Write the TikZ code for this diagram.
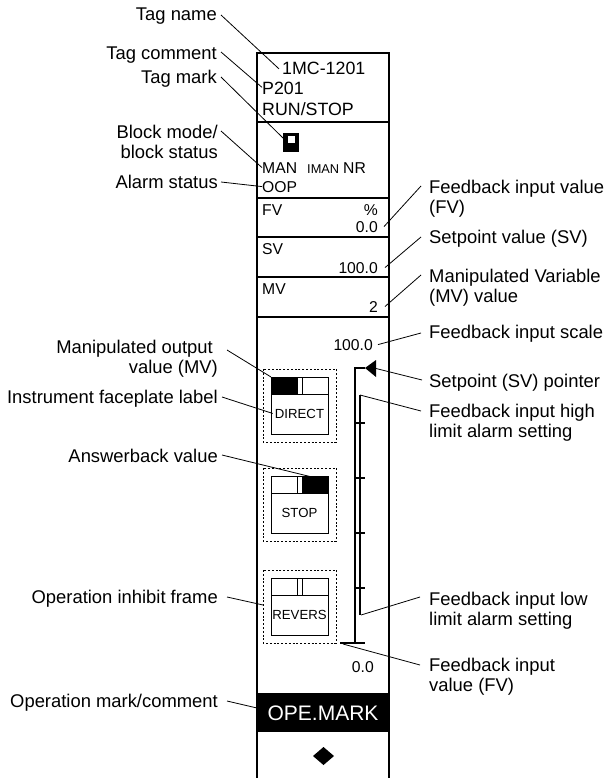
\documentclass[tikz,border=0pt]{standalone}
\usepackage{fontspec}
\setmainfont{Liberation Sans}
\tikzset{
  lbl/.style={font=\fontsize{18.4}{20}\selectfont, inner sep=0pt},
  lblL/.style={lbl, align=right, anchor=north east},
  lblR/.style={lbl, align=left, anchor=north west},
  ptxt/.style={font=\fontsize{15.7}{18}\selectfont, inner sep=0pt},
  tagtxt/.style={font=\fontsize{17.8}{20}\selectfont, inner sep=0pt, anchor=base west},
  btxt/.style={font=\fontsize{13.2}{15}\selectfont, inner sep=0pt, anchor=base},
  leader/.style={line width=0.8pt},
  panel/.style={line width=1.4pt},
  inhibit/.style={line width=0.9pt, dash pattern=on 2pt off 1.8pt},
}

\begin{document}
\begin{tikzpicture}[x=1pt, y=-1pt]
  \useasboundingbox (0,0) rectangle (605,778);
  % faceplate frame
  \draw[panel] (257,778) -- (257,53) -- (389,53) -- (389,778);
  \foreach \y in {122,198,237,277,317}
    \draw[panel] (257,\y) -- (389,\y);
  \fill (257,693) rectangle (389,732);
  \node[font=\fontsize{21}{24}\selectfont, text=white, inner sep=0pt, anchor=base]
    (opemark) at (323,720) {OPE.MARK};
  \fill (323.5,747) -- (334,756) -- (323.5,765) -- (313,756) -- cycle;

  % tag area
  \node[tagtxt] (tagname)    at (282,75)  {1MC-1201};
  \node[tagtxt] (tagcomment) at (262,95)  {P201};
  \node[tagtxt] (tagrun)     at (262,116) {RUN/STOP};
  \fill (283,133) rectangle (299,152);
  \fill[white] (288,136) rectangle (295,143);
  \coordinate (tagmark) at (283,138);

  % mode / alarm
  \node[ptxt, anchor=base west] (modeman) at (262,173) {MAN};
  \node[ptxt, anchor=base west, font=\fontsize{12.8}{15}\selectfont]
    (modeiman) at (307,173) {IMAN};
  \node[ptxt, anchor=base west] (modenr)  at (343,173) {NR};
  \node[ptxt, anchor=base west] (alarm)   at (262,192) {OOP};

  % data rows
  \node[ptxt, anchor=base west] (fvname) at (262,215) {FV};
  \node[ptxt, anchor=base east] (fvunit) at (378,215) {\%};
  \node[ptxt, anchor=base east] (fvval)  at (378,232) {0.0};
  \node[ptxt, anchor=base west] (svname) at (262,254) {SV};
  \node[ptxt, anchor=base east] (svval)  at (378,273) {100.0};
  \node[ptxt, anchor=base west] (mvname) at (262,294) {MV};
  \node[ptxt, anchor=base east] (mvval)  at (378,312) {2};

  % operation buttons
  \foreach \nm/\y/\lf/\rf/\txt in {direct/369/black/white/DIRECT,
                                   stop/468/white/black/STOP,
                                   revers/570/white/white/REVERS} {
    \draw[inhibit] (263,\y) rectangle (336,\y+73);
    \draw[line width=1pt] (271,\y+8) rectangle (328,\y+65);
    \filldraw[line width=1pt, fill=\lf] (271,\y+8) rectangle (297,\y+25);
    \draw[line width=1pt] (297,\y+8) rectangle (302,\y+25);
    \filldraw[line width=1pt, fill=\rf] (302,\y+8) rectangle (328,\y+25);
    \node[btxt] (\nm) at (299.5,\y+49) {\txt};
  }
  \coordinate (dirbar)  at (271,377);
  \coordinate (stopbar) at (312,477);
  \coordinate (revframe) at (263,605);

  % bar graph
  \node[ptxt, anchor=base east] (scalehi) at (373,350) {100.0};
  \node[ptxt, anchor=base east] (scalelo) at (374,672) {0.0};
  \draw[line width=1.1pt] (365,368) -- (355,368) -- (355,643) -- (365,643);
  \foreach \t in {423,478,533,588}
    \draw[line width=1.1pt] (355,\t) -- (365,\t);
  \fill (365,368) -- (376,360) -- (376,377) -- cycle;
  \coordinate (svptr) at (376,368.5);
  \draw[line width=1.1pt] (360,395) -- (360,615);
  \coordinate (hialarm) at (360,395);
  \coordinate (loalarm) at (361,615);
  \draw[line width=2pt] (340,643) -- (355,643);
  \coordinate (fvbar) at (343,644);
  \coordinate (opeleft) at (257,708);

  % left labels
  \node[lblL] (ltagname) at (217,8)   {Tag name};
  \node[lblL] (ltagcom)  at (217,47)  {Tag comment};
  \node[lblL] (ltagmark) at (217,70)  {Tag mark};
  \node[lblL] (lblock)   at (218,125) {Block mode/\\block status};
  \node[lblL] (lalarm)   at (218,175) {Alarm status};
  \node[lblL] (lmvout)   at (218,340) {Manipulated output\hbox to 5pt{}\\value (MV)};
  \node[lblL] (lface)    at (218,390) {Instrument faceplate label};
  \node[lblL] (lansw)    at (218,449) {Answerback value};
  \node[lblL] (linhibit) at (218,590) {Operation inhibit frame};
  \node[lblL] (lopemark) at (218,694) {Operation mark/comment};

  \draw[leader] ([shift={(4,7)}]ltagname.north east) -- ([shift={(-3,0)}]tagname.west);
  \draw[leader] ([shift={(4,5)}]ltagcom.north east)  -- ([shift={(0,5)}]tagcomment.north west);
  \draw[leader] ([shift={(4,7)}]ltagmark.north east) -- (tagmark);
  \draw[leader] ([shift={(3,6)}]lblock.north east)   -- (modeman.west);
  \draw[leader] ([shift={(3,7)}]lalarm.north east)   -- (alarm.west);
  \draw[leader] ([shift={(9,10)}]lmvout.north east)  -- (dirbar);
  \draw[leader] ([shift={(4,7)}]lface.north east)    -- ([shift={(-2,0)}]direct.west);
  \draw[leader] ([shift={(4,6)}]lansw.north east)    -- (stopbar);
  \draw[leader] ([shift={(9,7)}]linhibit.north east) -- (revframe);
  \draw[leader] ([shift={(9,7)}]lopemark.north east) -- (opeleft);

  % right labels
  \node[lblR] (lfv)    at (429,180) {Feedback input value\\(FV)};
  \node[lblR] (lsv)    at (429,230) {Setpoint value (SV)};
  \node[lblR] (lmv)    at (429,269) {Manipulated Variable\\(MV) value};
  \node[lblR] (lscale) at (429,325) {Feedback input scale};
  \node[lblR] (lsvptr) at (429,374) {Setpoint (SV) pointer};
  \node[lblR] (lhi)    at (429,404) {Feedback input high\\limit alarm setting};
  \node[lblR] (llo)    at (429,592) {Feedback input low\\limit alarm setting};
  \node[lblR] (lfvin)  at (429,658) {Feedback input\\value (FV)};

  \draw[leader] ([shift={(-8,6)}]lfv.north west)    -- ([shift={(6,0)}]fvval.east);
  \draw[leader] ([shift={(-8,7)}]lsv.north west)    -- ([shift={(7,0)}]svval.east);
  \draw[leader] ([shift={(-8,6)}]lmv.north west)    -- ([shift={(7,0)}]mvval.east);
  \draw[leader] ([shift={(-8,8)}]lscale.north west) -- ([shift={(5,0)}]scalehi.east);
  \draw[leader] ([shift={(-7,6)}]lsvptr.north west) -- (svptr);
  \draw[leader] ([shift={(-8,7)}]lhi.north west)    -- (hialarm);
  \draw[leader] ([shift={(-9,5)}]llo.north west)    -- (loalarm);
  \draw[leader] ([shift={(-9,7)}]lfvin.north west)  -- (fvbar);
\end{tikzpicture}
\end{document}
